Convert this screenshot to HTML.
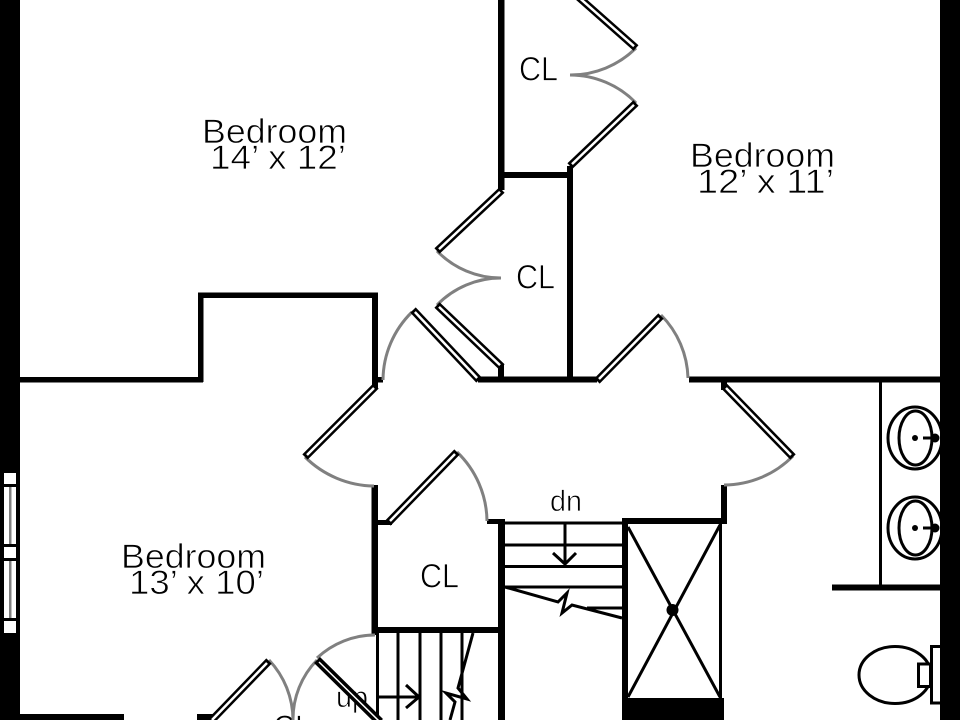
<!DOCTYPE html>
<html>
<head>
<meta charset="utf-8">
<title>Floor plan</title>
<style>
html,body{margin:0;padding:0;background:#fff;width:960px;height:720px;overflow:hidden}
svg{display:block}
text{font-family:"Liberation Sans",sans-serif;fill:#000;stroke:#fff;stroke-width:.7}
.t{stroke:#000;stroke-width:3;fill:none}
.w{fill:#000}
.a{stroke:#808080;stroke-width:3;fill:none}
.lb{stroke:#000;stroke-width:7.500;fill:none}
.lw{stroke:#fff;stroke-width:2.500;fill:none}
</style>
</head>
<body>
<svg width="960" height="720" viewBox="0 0 960 720" xmlns="http://www.w3.org/2000/svg">
<rect width="960" height="720" fill="#fff"/>

<!-- stairs -->
<path class="t" d="M505 523H622M505 545H622M505 566.500H622M505 587H622M587 608H622"/>
<path class="t" d="M505 587L558 602L567 593L562 613L572 605L622 618"/>
<path class="t" d="M565 523V563M553 553L565 564L576 553"/>
<path class="t" d="M398 633V720M420 633V720M441 633V720M462 633V720"/>
<path d="M378 697H418M406 685L419 697L406 708" class="t"/>
<path class="t" d="M473 633L458 688L467 699L446 693L455 702L450 720"/>
<path d="M377.500 633V720" class="t"/>

<!-- text -->
<text x="202" y="143" font-size="34" textLength="145" lengthAdjust="spacingAndGlyphs">Bedroom</text>
<text x="210" y="169" font-size="34" textLength="136" lengthAdjust="spacingAndGlyphs">14’ x 12’</text>
<text x="690" y="167" font-size="34" textLength="145" lengthAdjust="spacingAndGlyphs">Bedroom</text>
<text x="697" y="193" font-size="34" textLength="137" lengthAdjust="spacingAndGlyphs">12’ x 11’</text>
<text x="121" y="568" font-size="34" textLength="145" lengthAdjust="spacingAndGlyphs">Bedroom</text>
<text x="129" y="594" font-size="34" textLength="135" lengthAdjust="spacingAndGlyphs">13’ x 10’</text>
<text x="519" y="80.500" font-size="34" textLength="39" lengthAdjust="spacingAndGlyphs">CL</text>
<text x="516" y="288.500" font-size="34" textLength="39" lengthAdjust="spacingAndGlyphs">CL</text>
<text x="420" y="587.500" font-size="34" textLength="39" lengthAdjust="spacingAndGlyphs">CL</text>
<text x="273" y="739" font-size="34" textLength="39" lengthAdjust="spacingAndGlyphs">CL</text>
<text x="550" y="511" font-size="30" textLength="32" lengthAdjust="spacingAndGlyphs">dn</text>
<text x="336" y="707" font-size="30" textLength="32" lengthAdjust="spacingAndGlyphs">up</text>

<!-- outer walls -->
<rect class="w" x="0" y="0" width="20" height="720"/>
<rect class="w" x="940" y="0" width="20" height="720"/>

<!-- window -->
<g fill="#fff">
<rect x="4" y="473" width="12" height="11"/>
<rect x="4" y="487" width="12" height="57"/>
<rect x="4" y="547" width="12" height="11"/>
<rect x="4" y="561" width="12" height="57"/>
<rect x="4" y="621" width="12" height="12"/>
</g>
<rect x="9" y="487" width="2.500" height="57" fill="#808080"/>
<rect x="9" y="561" width="2.500" height="57" fill="#808080"/>

<!-- interior walls -->
<g class="w">
<rect x="498" y="0" width="6.500" height="190"/>
<rect x="498" y="172" width="75" height="6"/>
<rect x="567" y="166" width="6" height="216"/>
<rect x="478" y="376.500" width="119" height="6"/>
<rect x="498" y="365" width="6" height="14"/>
<rect x="20" y="377" width="183" height="5.500"/>
<rect x="198" y="293" width="5.500" height="89"/>
<rect x="198" y="292.500" width="180" height="5.500"/>
<rect x="372" y="292.500" width="6" height="96"/>
<rect x="372" y="377" width="11" height="5.500"/>
<rect x="689" y="376.500" width="251" height="6"/>
<rect x="721" y="382" width="6" height="8"/>
<rect x="721" y="485" width="6" height="35"/>
<rect x="371.500" y="485" width="6.500" height="150"/>
<rect x="372" y="520" width="20" height="5"/>
<rect x="372" y="627" width="133" height="6"/>
<rect x="498" y="520" width="7" height="200"/>
<rect x="487" y="519" width="18" height="5"/>
<rect x="622" y="518" width="6" height="202"/>
<rect x="622" y="518" width="105" height="6"/>
<rect x="622" y="698" width="102" height="22"/>
<rect x="719" y="522" width="3" height="178"/>
<rect x="832" y="584.500" width="108" height="6"/>
<rect x="879" y="382" width="3" height="203"/>
<rect x="20" y="714" width="104" height="6"/>
<rect x="197" y="714" width="18" height="6"/>
</g>

<!-- storage X -->
<path d="M628 527L720 697M720 525L628 697" stroke="#000" stroke-width="3" fill="none"/>
<circle cx="672.500" cy="610" r="6" fill="#000"/>

<!-- door arcs -->
<g class="a">
<path d="M636 48A93 93 0 0 1 570 75"/>
<path d="M636 103A92 92 0 0 0 570 75"/>
<path d="M437 251A89 89 0 0 0 501 278"/>
<path d="M437 305A89 89 0 0 1 501 278"/>
<path d="M412 312A96 96 0 0 0 383 380"/>
<path d="M661 315A93 93 0 0 1 688 378"/>
<path d="M793 456A97 97 0 0 1 724 485"/>
<path d="M305 457A100 100 0 0 0 374 486"/>
<path d="M457 452A97 97 0 0 1 487 521"/>
<path d="M269 660A88 88 0 0 1 293 720"/>
<path d="M317 660A85 85 0 0 0 293 720"/>
<path d="M317 658A85 85 0 0 1 375 635"/>
</g>

<!-- door leaves -->
<path class="lb" d="M575 -6L636 48"/><path class="lw" d="M575 -6L634 46.200"/>
<path class="lb" d="M636 103L570 166"/><path class="lw" d="M634 104.900L572 164.100"/>
<path class="lb" d="M502 190L437 251"/><path class="lw" d="M500 191.900L439 249.100"/>
<path class="lb" d="M437 305L502 367"/><path class="lw" d="M439 306.900L500 365.100"/>
<path class="lb" d="M413 310L479 380"/><path class="lw" d="M414.900 312L477.100 378"/>
<path class="lb" d="M597 381L661 316"/><path class="lw" d="M599 379L659 318"/>
<path class="lb" d="M724 386L793 457"/><path class="lw" d="M726 388L791 455"/>
<path class="lb" d="M376 386L305 457"/><path class="lw" d="M374 388L307 455"/>
<path class="lb" d="M388 523L457 452"/><path class="lw" d="M390 521L455 454"/>
<path class="lb" d="M210 722L269 661"/><path class="lw" d="M212 720L267 663"/>
<path stroke="#000" stroke-width="8.500" fill="none" d="M317 660L380 722"/><path stroke="#fff" stroke-width="1.500" fill="none" d="M319 662L380 722"/>

<!-- sinks -->
<g fill="none" stroke="#000" stroke-width="3">
<ellipse cx="915" cy="438" rx="27" ry="31"/>
<ellipse cx="915.500" cy="438" rx="16.500" ry="27"/>
<path d="M923 438H936"/>
<ellipse cx="915" cy="528" rx="27" ry="31"/>
<ellipse cx="915.500" cy="528" rx="16.500" ry="27"/>
<path d="M923 528H936"/>
</g>
<circle cx="915" cy="438" r="3" fill="#000"/>
<circle cx="935" cy="438" r="4.500" fill="#000"/>
<circle cx="915" cy="528" r="3" fill="#000"/>
<circle cx="935" cy="528" r="4.500" fill="#000"/>
<rect class="w" x="940" y="400" width="20" height="170"/>

<!-- toilet -->
<ellipse cx="895" cy="675" rx="36" ry="28.500" fill="#fff" stroke="#000" stroke-width="3"/>
<rect x="918.500" y="664" width="12" height="22.500" fill="#fff" stroke="#000" stroke-width="3"/>
<rect x="931.500" y="646.500" width="10" height="56.500" fill="#fff" stroke="#000" stroke-width="3"/>
<rect class="w" x="940" y="640" width="20" height="70"/>
</svg>
</body>
</html>
